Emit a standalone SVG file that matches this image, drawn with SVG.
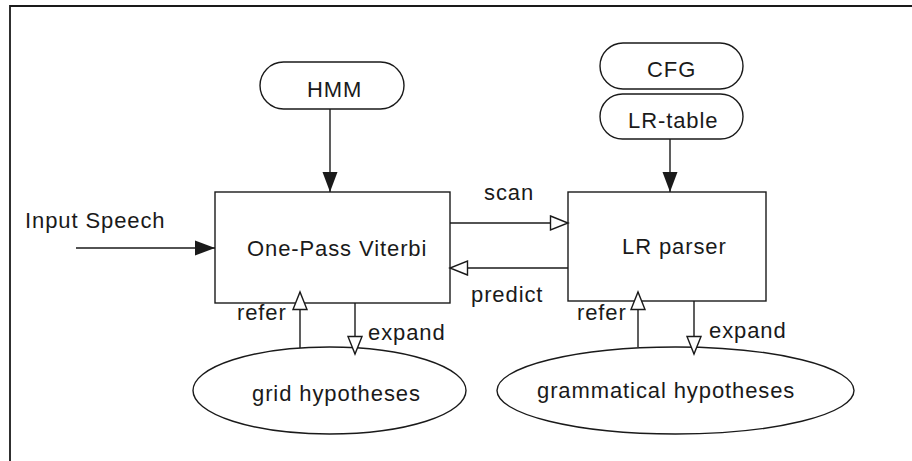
<svg xmlns="http://www.w3.org/2000/svg" width="912" height="461" viewBox="0 0 912 461">
<style>
.t{font-family:"Liberation Sans",Arial,sans-serif;font-size:22px;letter-spacing:0.9px;fill:#1a1a1a}
.s{fill:none;stroke:#1a1a1a;stroke-width:1.4}
.n{fill:#fff;stroke:#1a1a1a;stroke-width:1.4}
</style>
<defs>
<marker id="fa" viewBox="0 0 20 15" refX="20" refY="7.5" markerWidth="20" markerHeight="15" markerUnits="userSpaceOnUse" orient="auto" overflow="visible">
<path d="M0,0 L20,7.5 L0,15 Z" fill="#1a1a1a"/>
</marker>
<marker id="oa" viewBox="0 0 18 15" refX="18" refY="7.5" markerWidth="18" markerHeight="15" markerUnits="userSpaceOnUse" orient="auto" overflow="visible">
<path d="M0.5,0.5 L18,7.5 L0.5,14.5 Z" fill="#fff" stroke="#1a1a1a" stroke-width="1.4"/>
</marker>
</defs>
<rect width="912" height="461" fill="#fff"/>
<polyline points="10,461 10,6 912,6" fill="none" stroke="#1a1a1a" stroke-width="1.8"/>

<g id="hmm">
<rect class="n" x="260" y="62" width="144" height="47" rx="23.5"/>
<text class="t" x="307" y="97">HMM</text>
</g>
<g id="cfg">
<rect class="n" x="600" y="43" width="143" height="46" rx="23"/>
<text class="t" x="647" y="77">CFG</text>
</g>
<g id="lrtable">
<rect class="n" x="600" y="94" width="143" height="45" rx="22.5"/>
<text class="t" x="628" y="128">LR-table</text>
</g>
<g id="input">
<text class="t" x="25" y="228">Input Speech</text>
</g>
<g id="viterbi">
<rect class="n" x="215" y="192" width="235" height="111"/>
<text class="t" x="247" y="256">One-Pass Viterbi</text>
</g>
<g id="lrparser">
<rect class="n" x="568" y="192" width="198" height="109"/>
<text class="t" x="622" y="254">LR parser</text>
</g>
<g id="grid">
<ellipse class="n" cx="329.5" cy="390.5" rx="136.5" ry="43.5"/>
<text class="t" x="252" y="401">grid hypotheses</text>
</g>
<g id="gram">
<ellipse class="n" cx="675.5" cy="390.5" rx="178.5" ry="43.5"/>
<text class="t" x="537" y="398">grammatical hypotheses</text>
</g>

<g id="connectors">
<line class="s" x1="76" y1="248" x2="215" y2="248" marker-end="url(#fa)"/>
<line class="s" x1="330" y1="109" x2="330" y2="192" marker-end="url(#fa)"/>
<line class="s" x1="670" y1="139" x2="670" y2="192" marker-end="url(#fa)"/>
<line class="s" x1="450" y1="223" x2="568" y2="223" marker-end="url(#oa)"/>
<line class="s" x1="568" y1="268" x2="450" y2="268" marker-end="url(#oa)"/>
<line class="s" x1="300" y1="348" x2="300" y2="292" marker-end="url(#oa)"/>
<line class="s" x1="355" y1="303" x2="355" y2="354" marker-end="url(#oa)"/>
<line class="s" x1="638" y1="347" x2="638" y2="292" marker-end="url(#oa)"/>
<line class="s" x1="694" y1="301" x2="694" y2="354" marker-end="url(#oa)"/>
<text class="t" x="484" y="200">scan</text>
<text class="t" x="471" y="302">predict</text>
<text class="t" x="237" y="320">refer</text>
<text class="t" x="368" y="340">expand</text>
<text class="t" x="577" y="320">refer</text>
<text class="t" x="709" y="338">expand</text>
</g>
</svg>
